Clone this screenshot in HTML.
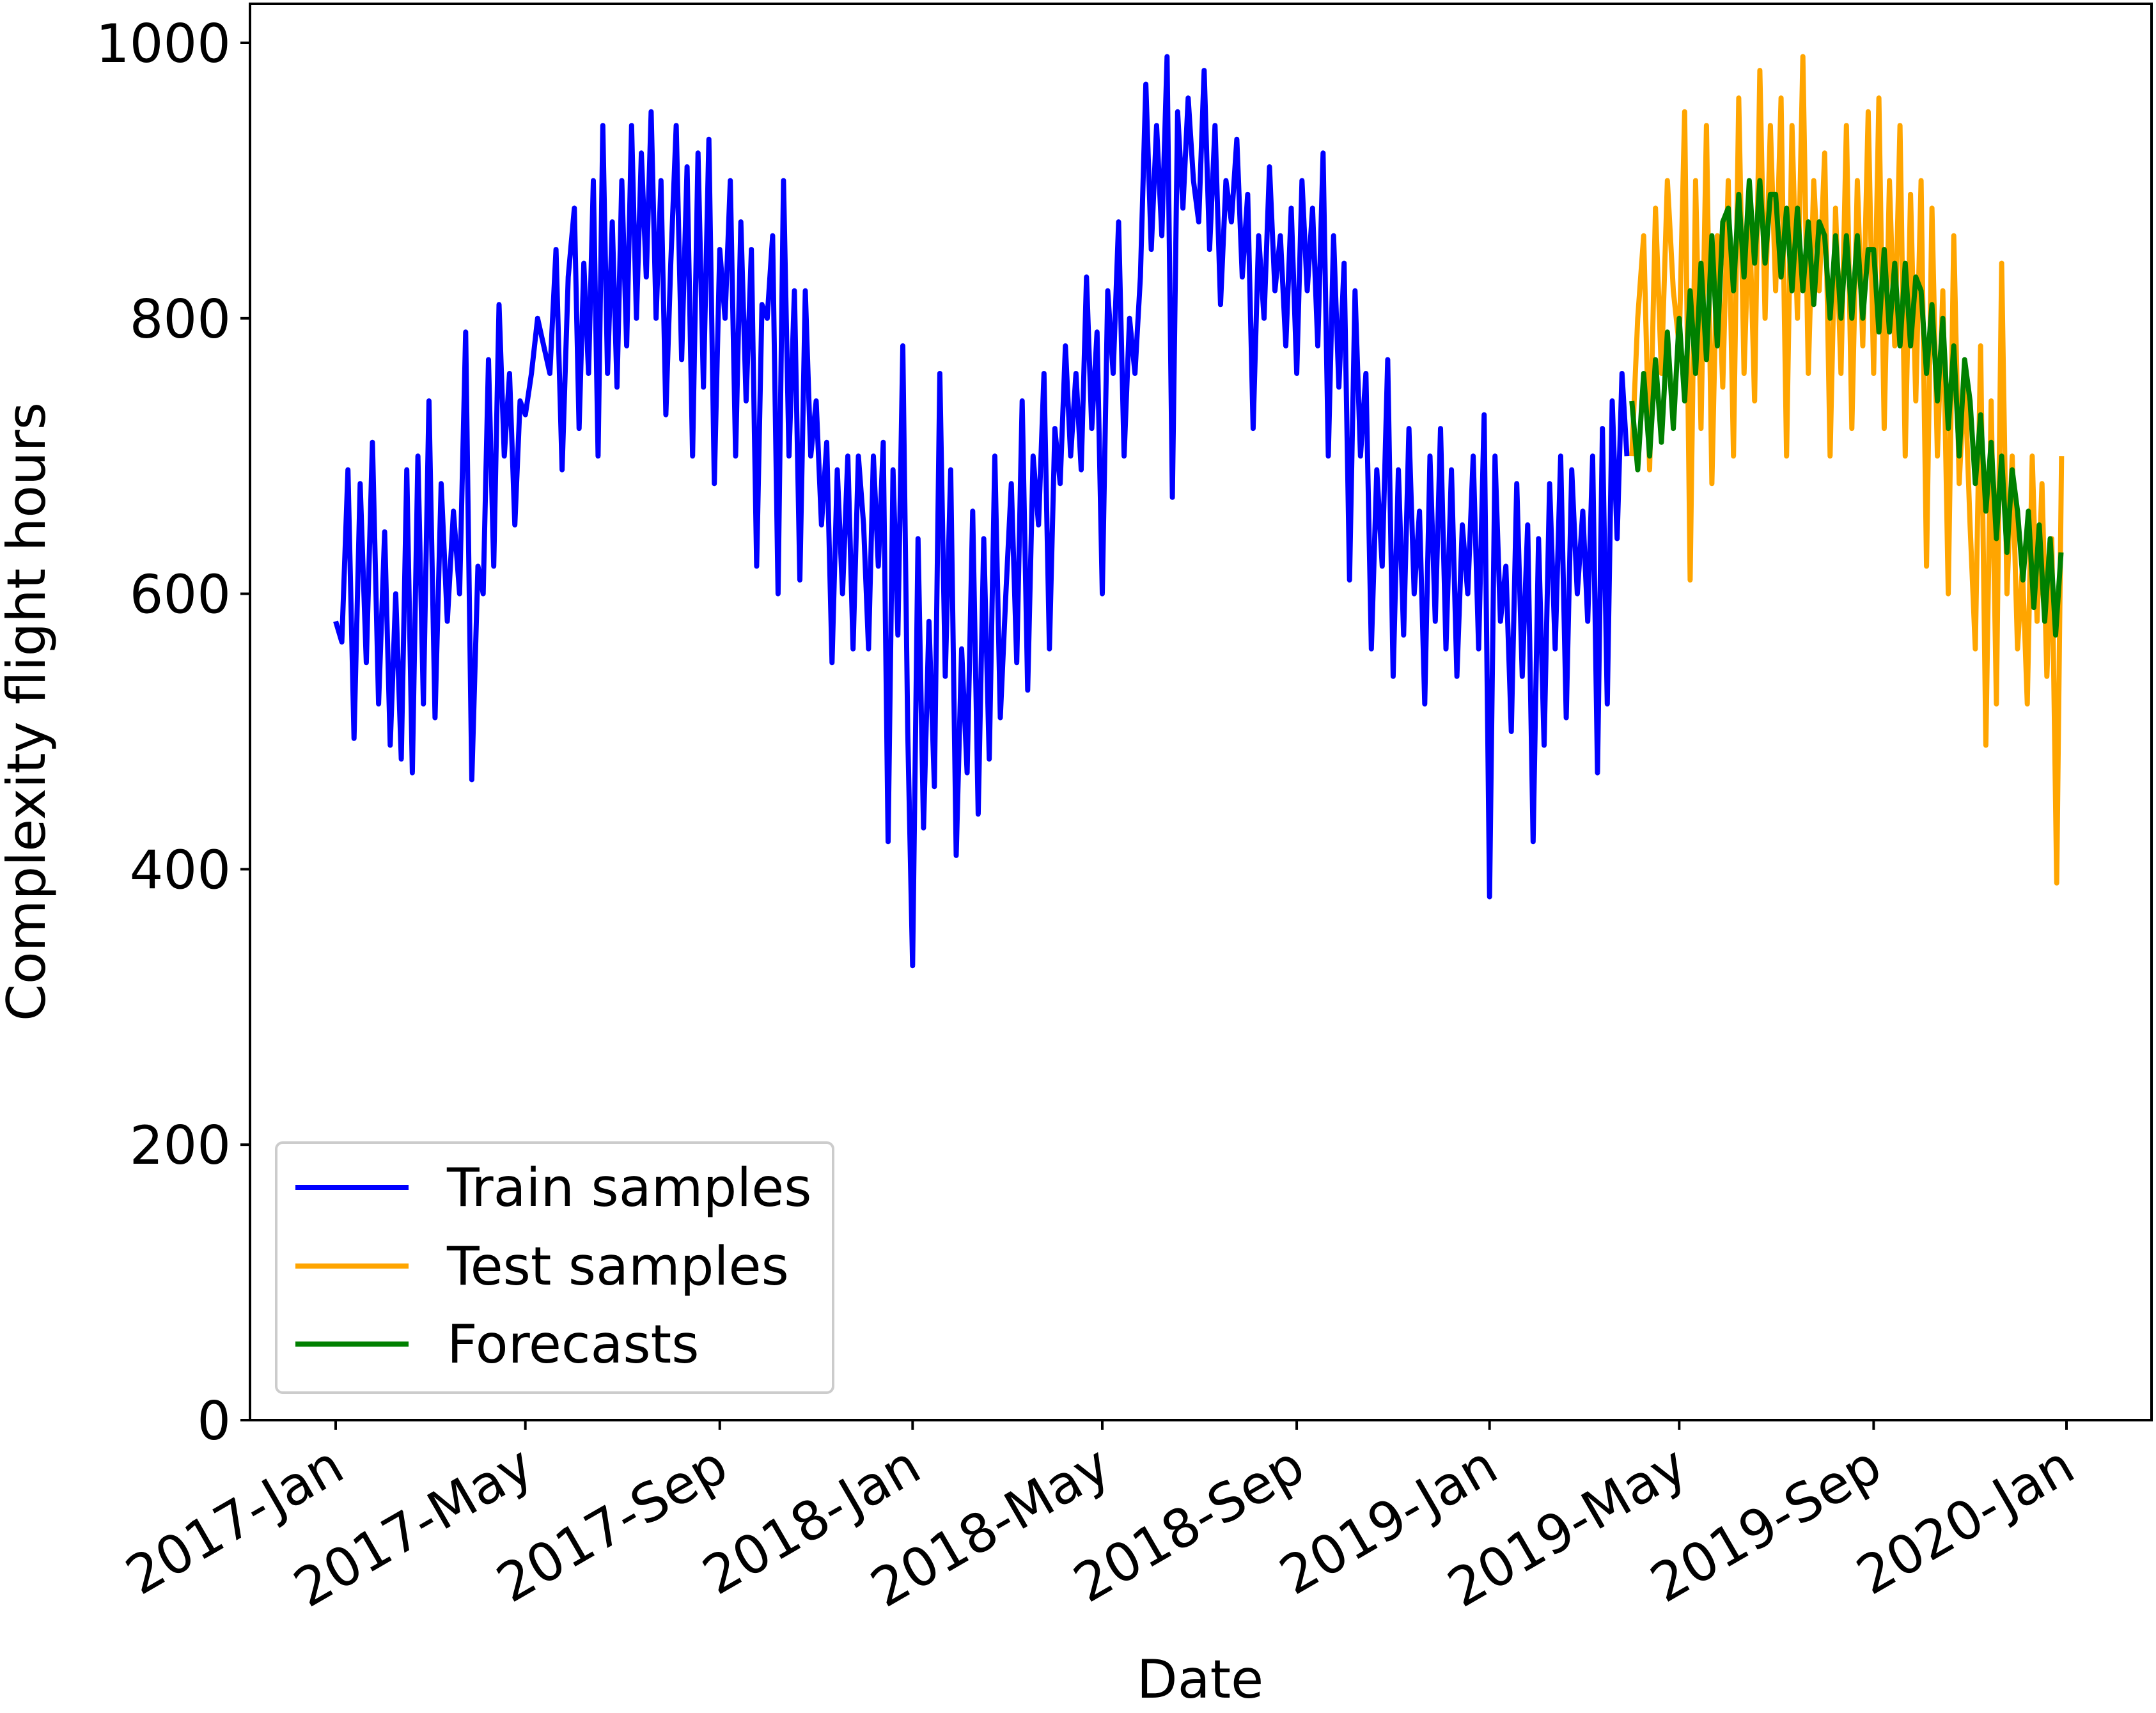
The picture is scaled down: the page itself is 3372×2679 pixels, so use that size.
<!DOCTYPE html>
<html><head><meta charset="utf-8"><style>
html,body{margin:0;padding:0;background:#fff}
svg{display:block;font-family:"DejaVu Sans","Liberation Sans",sans-serif}
</style></head><body>
<svg id="chart" width="3372" height="2679" viewBox="0 0 3372 2679" xmlns="http://www.w3.org/2000/svg">
<rect x="0" y="0" width="3372" height="2679" fill="#fff"/>
<g id="plot"></g>
<g id="axes"></g>
<text x="0" y="0" transform="translate(70,1113) rotate(-90)" text-anchor="middle" font-size="83">Complexity flight hours</text>
<text x="1877" y="2655" text-anchor="middle" font-size="83">Date</text>
<g>
<rect x="432" y="1787" width="871" height="391" rx="10" fill="#fff" fill-opacity="0.8" stroke="#ccc" stroke-width="4"/>
<g><line x1="462" y1="1857" x2="639" y2="1857" stroke="#0000ff" stroke-width="8"/><text x="699" y="1886" font-size="83">Train samples</text></g>
<g><line x1="462" y1="1980" x2="639" y2="1980" stroke="#ffa500" stroke-width="8"/><text x="699" y="2009" font-size="83">Test samples</text></g>
<g><line x1="462" y1="2102" x2="639" y2="2102" stroke="#008000" stroke-width="8"/><text x="699" y="2131" font-size="83">Forecasts</text></g>
</g>
</svg>
<script>
// Monthly groups of daily-ish values (month 0 = 2017-Jan)
const trainMonths = [
[580,565,690,495,680,550,710,520],
[645,490,600,480,690,470,700,520],
[740,510,680,580,660,600,790,465],
[620,600,770,620,810,700,760,650,740],
[730,760,800,780,760,850,690,830],
[880,720,840,760,900,700,940,760,870,750],
[900,780,940,800,920,830,950,800,900,730],
[840,940,770,910,700,920,750,930,680],
[850,800,900,700,870,740,850,620,810],
[800,860,600,900,700,820,610,820,700],
[740,650,710,550,690,600,700,560,700],
[650,560,700,620,710,420,690,570,780,500],
[330,640,430,580,460,760,540,690,410],
[560,470,660,440,640,480,700,510],
[600,680,550,740,530,700,650,760,560],
[720,680,780,700,760,690,830,720,790],
[600,820,760,870,700,800,760,830,970],
[850,940,860,990,670,950,880,960,900],
[870,980,850,940,810,900,870,930,830],
[890,720,860,800,910,820,860,780,880],
[760,900,820,880,780,920,700,860,750],
[840,610,820,700,760,560,690,620,770],
[540,690,570,720,600,660,520,700,580],
[720,560,690,540,650,600,700,560,730],
[380,700,580,620,500,680,540,650,420],
[640,490,680,560,700,510,690,600],
[660,580,700,470,720,520,740,640,760,700]
];
const testStartMonth = 27;
const testMonths = [
[700,800,860,690,880,760,900,820],
[780,950,610,900,720,940,680,860,750],
[900,700,960,760,880,740,980,800,940],
[820,960,700,940,800,990,760,900,820],
[920,700,880,760,940,720,900,780,950],
[760,960,720,900,780,940,700,890,740],
[900,620,880,700,820,600,860,680,760],
[650,560,780,490,740,520,840,600,700],
[560,620,520,700,580,680,540,640,390,700]
];
const forecastMonths = [
[740,690,760,700,770,710,790,720],
[800,740,820,760,840,770,860,780,870],
[880,820,890,830,900,840,900,840,890],
[890,830,880,820,880,820,870,810,870],
[860,800,860,800,860,800,860,800,850],
[850,790,850,790,840,780,840,780,830],
[820,760,810,740,800,720,780,700,770],
[740,680,730,660,710,640,700,630,690],
[660,610,660,590,650,580,640,570,630]
];
const yTicks = [0,200,400,600,800,1000];
const xTickLabels = ["2017-Jan","2017-May","2017-Sep","2018-Jan","2018-May","2018-Sep","2019-Jan","2019-May","2019-Sep","2020-Jan"];
const xTickMonths = [0,4,8,12,16,20,24,28,32,36];

const L=391,R=3365,T=6,B=2221;
const X0=525, pxPerDay=(3232-525)/1095;
const base=Date.UTC(2017,0,1);
function monthDay(m){return (Date.UTC(2017+Math.floor(m/12),m%12,1)-base)/86400000;}
function xs(d){return X0+d*pxPerDay;}
function ys(v){return 2221-v*(2221-67)/1000;}
const NS="http://www.w3.org/2000/svg";
const plot=document.getElementById('plot'), axes=document.getElementById('axes');

function series(months,startM,color,name){
  const pts=[];
  months.forEach((vals,i)=>{
    const m=startM+i, d0=monthDay(m), len=monthDay(m+1)-d0;
    vals.forEach((v,j)=>pts.push(xs(d0+j*len/vals.length).toFixed(1)+','+ys(v).toFixed(1)));
  });
  const p=document.createElementNS(NS,'polyline');
  p.setAttribute('points',pts.join(' '));
  p.setAttribute('fill','none');p.setAttribute('stroke',color);
  p.setAttribute('stroke-width','8');p.setAttribute('stroke-linejoin','round');
  
  
  plot.appendChild(p);
}
series(trainMonths,0,'#0000ff','train-series-line');
series(testMonths,testStartMonth,'#ffa500','test-series-line');
series(forecastMonths,testStartMonth,'#008000','forecast-series-line');

const frame=document.createElementNS(NS,'rect');
frame.setAttribute('x',L);frame.setAttribute('y',T);frame.setAttribute('width',R-L);frame.setAttribute('height',B-T);
frame.setAttribute('fill','none');frame.setAttribute('stroke','#000');frame.setAttribute('stroke-width','4');


axes.appendChild(frame);

yTicks.forEach(v=>{
  const y=ys(v);
  const l=document.createElementNS(NS,'line');
  l.setAttribute('x1',L-15);l.setAttribute('x2',L);l.setAttribute('y1',y);l.setAttribute('y2',y);
  l.setAttribute('stroke','#000');l.setAttribute('stroke-width','4');
  
  
  axes.appendChild(l);
  const t=document.createElementNS(NS,'text');
  t.setAttribute('x',L-30);t.setAttribute('y',y+30);t.setAttribute('text-anchor','end');t.setAttribute('font-size','83');
  t.textContent=v;
  
  
  axes.appendChild(t);
});
xTickMonths.forEach((m,i)=>{
  const x=xs(monthDay(m));
  const l=document.createElementNS(NS,'line');
  l.setAttribute('x1',x);l.setAttribute('x2',x);l.setAttribute('y1',B);l.setAttribute('y2',B+15);
  l.setAttribute('stroke','#000');l.setAttribute('stroke-width','4');
  
  
  axes.appendChild(l);
  const t=document.createElementNS(NS,'text');
  t.setAttribute('text-anchor','end');t.setAttribute('font-size','83');
  t.setAttribute('transform','translate('+(x+18)+','+(B+88)+') rotate(-30)');
  t.textContent=xTickLabels[i];
  
  
  axes.appendChild(t);
});
</script>
</body></html>
